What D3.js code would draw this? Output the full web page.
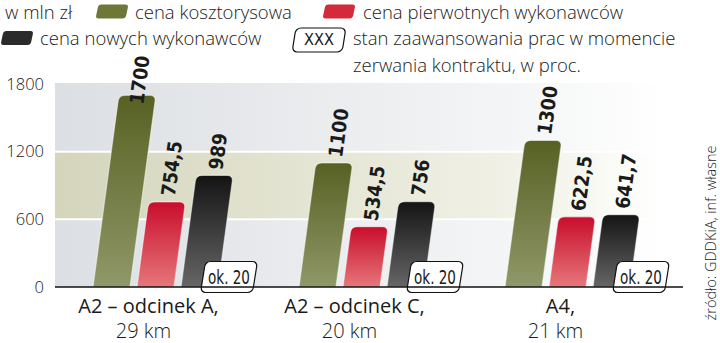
<!DOCTYPE html>
<html>
<head>
<meta charset="utf-8">
<script src="https://cdn.jsdelivr.net/npm/d3@7"></script>
<style>
  body { margin: 0; background: #fff; }
  svg { display: block; }
  text { font-family: "Open Sans", Lato, sans-serif; fill: #1a1a1a; }
</style>
</head>
<body>
<div id="chart"></div>
<script>
// dane: ceny w mln zł
const categories = ["A2 – odcinek A,", "A2 – odcinek C,", "A4,"];
const lengths = ["29 km", "20 km", "21 km"];
const seriesNames = ["cena kosztorysowa", "cena pierwotnych wykonawców", "cena nowych wykonawców"];
const kosztorys = [1700, 1100, 1300];
const pierwotni = [754.5, 534.5, 622.5];
const nowi = [989, 756, 641.7];
const progress = [20, 20, 20];
const yTicks = [0, 600, 1200, 1800];

let width = 720, height = 343;
let base = 287, slant = 0.135;

let svg = d3.select("#chart")
    .append("svg")
    .attr("width", width)
    .attr("height", height);

let defs = svg.append("defs");

function vGrad(id, top, bottom) {
    let g = defs.append("linearGradient").attr("id", id)
        .attr("x1", 0).attr("y1", 0).attr("x2", 0).attr("y2", 1);
    g.append("stop").attr("offset", "0%").attr("stop-color", top);
    g.append("stop").attr("offset", "100%").attr("stop-color", bottom);
}
function hGrad(id, left, right, op) {
    let g = defs.append("linearGradient").attr("id", id)
        .attr("x1", 0).attr("y1", 0).attr("x2", 1).attr("y2", 0);
    g.append("stop").attr("offset", "0%").attr("stop-color", left);
    g.append("stop").attr("offset", "75%").attr("stop-color", right);
    g.append("stop").attr("offset", "100%").attr("stop-color", right).attr("stop-opacity", op);
}
vGrad("g0", "#586123", "#8f9868");
vGrad("g1", "#c90d2c", "#e6777a");
vGrad("g2", "#141414", "#666666");
hGrad("bgGray", "#dcdfe3", "#f4f5f6", 0);
hGrad("bgBand", "#d4d5bb", "#f1f1e7", 0);

let fills = ["url(#g0)", "url(#g1)", "url(#g2)"];

let y = d3.scaleLinear()
    .domain([0, 1800])
    .range([base, 84]);

let x0 = d3.scaleBand()
    .domain(categories)
    .range([93, 93 + 3 * 206]);

let x1 = d3.scaleBand()
    .domain(seriesNames)
    .range([0, 125])
    .paddingInner(0.16);

// tło
let bgLeft = 55, bgRight = 665;
let bg = svg.append("g");
bg.append("rect").attr("x", bgLeft).attr("y", y(1800) - 1)
    .attr("width", bgRight - bgLeft).attr("height", y(1200) - y(1800) + 1)
    .attr("fill", "url(#bgGray)");
bg.append("rect").attr("x", bgLeft).attr("y", y(1200))
    .attr("width", bgRight - bgLeft).attr("height", y(600) - y(1200))
    .attr("fill", "url(#bgBand)");
bg.append("rect").attr("x", bgLeft).attr("y", y(600))
    .attr("width", bgRight - bgLeft).attr("height", base - y(600))
    .attr("fill", "url(#bgGray)");
bg.selectAll("line.grid")
    .data([600, 1200])
    .enter()
    .append("line")
    .attr("x1", bgLeft).attr("x2", bgRight)
    .attr("y1", d => y(d)).attr("y2", d => y(d))
    .attr("stroke", "#fff")
    .attr("stroke-width", 2);

// oś Y
let yAxis = svg.append("g")
    .attr("transform", "translate(" + bgLeft + ",0)")
    .call(d3.axisLeft(y).tickValues(yTicks).tickFormat(d3.format("d")).tickSize(0).tickPadding(11));
yAxis.select(".domain").remove();
yAxis.selectAll("text")
    .style("font-family", "'Open Sans', sans-serif")
    .style("font-weight", 300)
    .style("font-size", "16.5px")
    .attr("fill", "#222");

// dane w tabeli
let data = categories.map((c, i) => ({
    cat: c,
    km: lengths[i],
    progress: progress[i],
    values: [kosztorys[i], pierwotni[i], nowi[i]].map((v, j) => ({name: seriesNames[j], value: v, idx: j}))
}));

function barPath(bx, w, top, r) {
    let h = base - top;
    return "M" + bx + "," + base +
        "L" + (bx + w) + "," + base +
        "L" + (bx + w + (h - r) * slant) + "," + (top + r) +
        "Q" + (bx + w + h * slant) + "," + top + " " + (bx + w + h * slant - r) + "," + top +
        "L" + (bx + h * slant + r) + "," + top +
        "Q" + (bx + h * slant) + "," + top + " " + (bx + (h - r) * slant) + "," + (top + r) +
        "Z";
}

function fmt(v) {
    return String(v).replace(".", ",");
}

let groups = svg.selectAll(".grp")
    .data(data)
    .enter()
    .append("g")
    .classed("grp", true)
    .attr("transform", d => "translate(" + x0(d.cat) + ",0)");

groups.selectAll("path.bar")
    .data(d => d.values)
    .enter()
    .append("path")
    .classed("bar", true)
    .attr("d", d => barPath(x1(d.name), x1.bandwidth(), y(d.value), 6))
    .attr("fill", d => fills[d.idx])
    .attr("stroke", "rgba(255,255,255,0.5)")
    .attr("stroke-width", 1.2);

let angle = Math.atan(slant) * 180 / Math.PI;
groups.selectAll("text.val")
    .data(d => d.values)
    .enter()
    .append("text")
    .classed("val", true)
    .attr("transform", d => {
        let top = y(d.value);
        let sy = Math.max(top - 6, 104);
        let cx = x1(d.name) + x1.bandwidth() / 2 + (base - sy) * slant;
        return "translate(" + cx + "," + sy + ") rotate(" + (-90 + angle) + ")";
    })
    .attr("dy", "0.36em")
    .style("font-family", "'DejaVu Sans Condensed', 'DejaVu Sans', sans-serif")
    .style("font-weight", "bold")
    .style("font-size", "19.5px")
    .attr("fill", "#111")
    .text(d => fmt(d.value));

// ramki "ok. 20"
function tagBox(g, cx, cy, w, h, label, size, tw) {
    let t = g.append("g")
        .attr("transform", "translate(" + cx + "," + cy + ") skewX(-9)");
    t.append("rect")
        .attr("x", -w / 2).attr("y", -h / 2)
        .attr("width", w).attr("height", h)
        .attr("rx", 5)
        .attr("fill", "#fff")
        .attr("stroke", "#111")
        .attr("stroke-width", 1.2);
    g.append("text")
        .attr("x", cx).attr("y", cy)
        .attr("dy", "0.36em")
        .attr("text-anchor", "middle")
        .attr("textLength", tw)
        .attr("lengthAdjust", "spacingAndGlyphs")
        .style("font-family", "'DejaVu Sans Condensed', 'DejaVu Sans', sans-serif")
        .style("font-size", size + "px")
        .attr("fill", "#111")
        .text(label);
}

// linia bazowa
svg.append("line")
    .attr("x1", bgLeft).attr("x2", 683)
    .attr("y1", base).attr("y2", base)
    .attr("stroke", "#111")
    .attr("stroke-width", 1.5);

groups.each(function (d) {
    let g = d3.select(this);
    tagBox(g, x1.range()[1] + 11, base - 10, 52, 31, "ok. " + d.progress, 19, 42);
});

// podpisy kategorii
groups.append("text")
    .attr("x", x1.range()[1] / 2 - 7)
    .attr("y", 313)
    .attr("text-anchor", "middle")
    .style("font-size", "20px")
    .style("font-weight", 400)
    .attr("fill", "#111")
    .text(d => d.cat);
groups.append("text")
    .attr("x", x1.range()[1] / 2 - 12)
    .attr("y", 338)
    .attr("text-anchor", "middle")
    .style("font-size", "20px")
    .style("font-weight", 300)
    .attr("fill", "#222")
    .text(d => d.km);

// legenda
let legend = svg.append("g");
function legText(x, yb, s) {
    legend.append("text")
        .attr("x", x).attr("y", yb)
        .style("font-size", "18.5px")
        .style("font-weight", 300)
        .attr("fill", "#222")
        .text(s);
}
function swatch(x, yc, fill) {
    legend.append("rect")
        .attr("x", -15).attr("y", -7)
        .attr("width", 30).attr("height", 14)
        .attr("rx", 3)
        .attr("fill", fill)
        .attr("transform", "translate(" + x + "," + yc + ") skewX(-12)");
}
legText(5, 19, "w mln zł");
swatch(112, 11.5, "#6e7638");
legText(135, 19, seriesNames[0]);
swatch(339, 11.5, "#d42a3b");
legText(363, 19, seriesNames[1]);
swatch(17, 38, "#2b2b2b");
legText(40, 45, seriesNames[2]);
tagBox(legend, 319, 40, 50, 24, "XXX", 15, 30);
legText(353, 45, "stan zaawansowania prac w momencie");
legText(353, 72, "zerwania kontraktu, w proc.");

// źródło
svg.append("text")
    .attr("transform", "translate(711,233) rotate(-90)")
    .attr("dy", "0.35em")
    .attr("text-anchor", "middle")
    .style("font-size", "14.5px")
    .style("font-weight", 300)
    .attr("fill", "#333")
    .text("źródło: GDDKiA, inf. własne");
</script>
</body>
</html>
